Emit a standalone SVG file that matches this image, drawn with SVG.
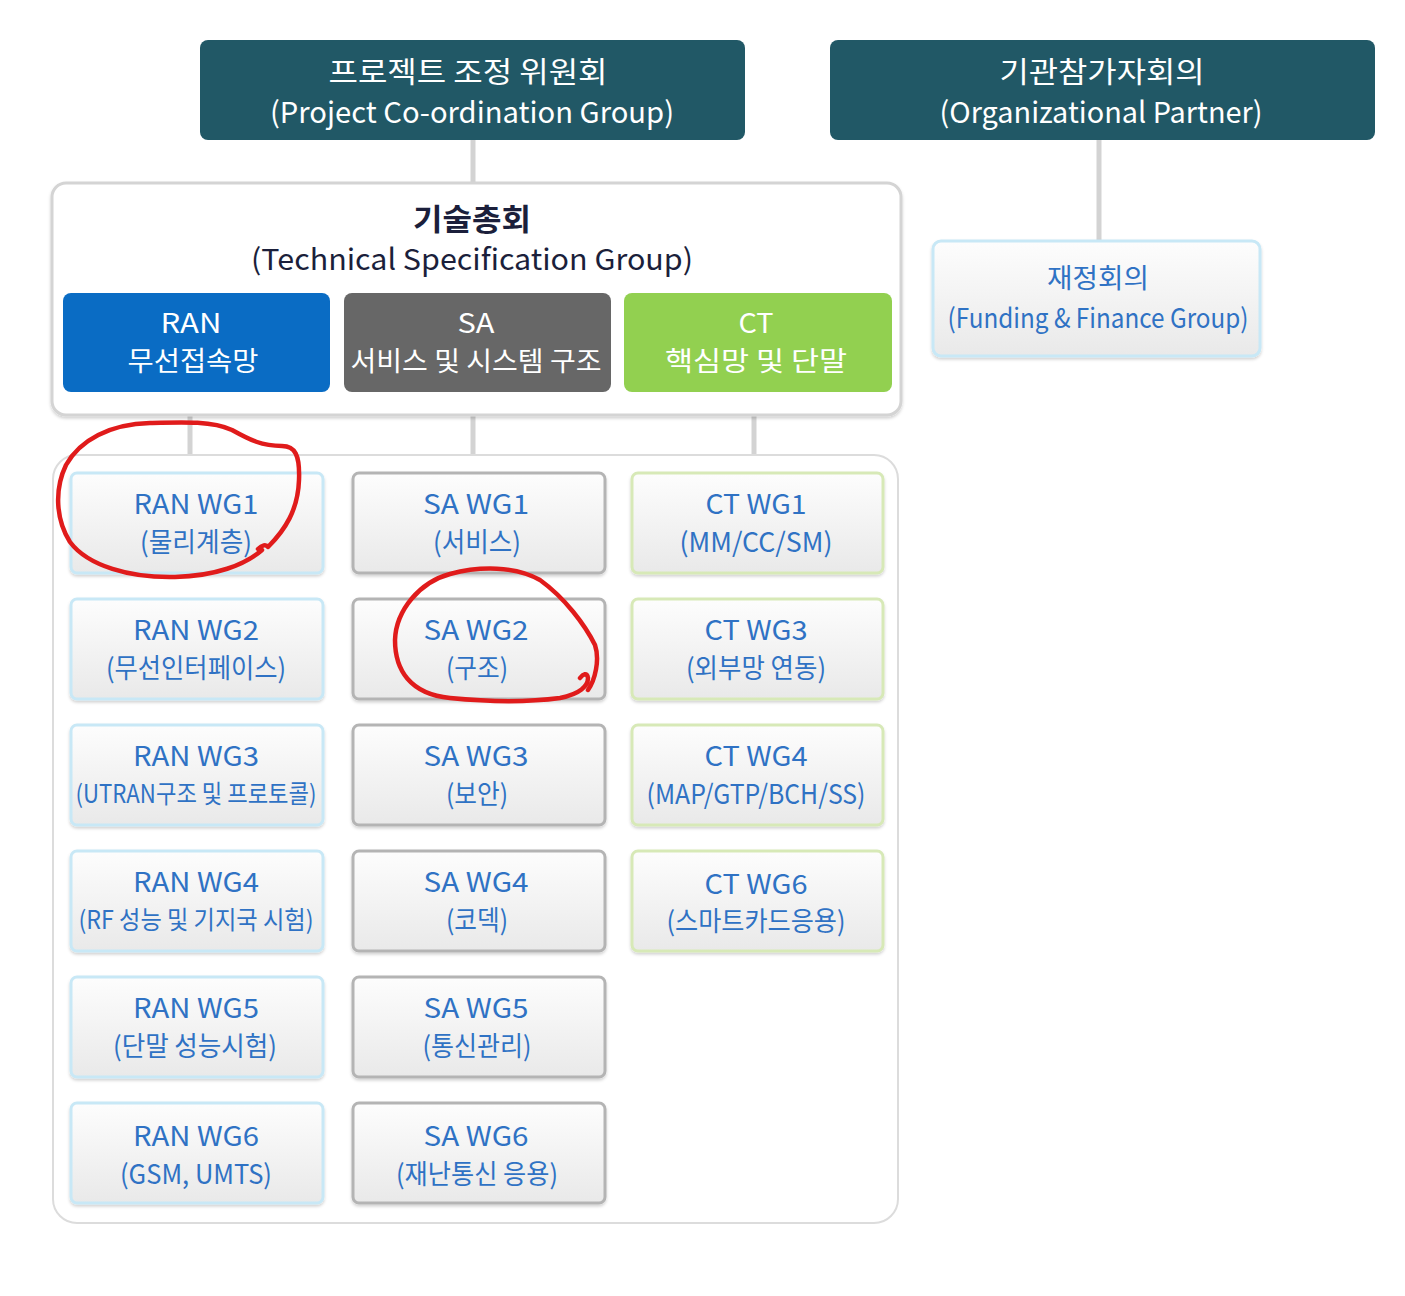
<svg xmlns="http://www.w3.org/2000/svg" width="1405" height="1296" viewBox="0 0 1405 1296">
<defs>
<linearGradient id="wg" x1="0" y1="0" x2="0" y2="1">
<stop offset="0" stop-color="#fdfdfd"/>
<stop offset="1" stop-color="#e9e9e9"/>
</linearGradient>
<filter id="sh" x="-5%" y="-5%" width="110%" height="115%">
<feDropShadow dx="0" dy="2" stdDeviation="1.5" flood-color="#000" flood-opacity="0.18"/>
</filter>
</defs>
<style>
text{font-family:"Noto Sans CJK KR","Noto Sans",sans-serif;text-anchor:middle;dominant-baseline:central}
.dark{fill:#215866}
.wt{fill:#ffffff;font-size:29px}
.wb{fill:#ffffff;font-size:27px}
.conn{stroke:#d3d3d3;stroke-width:5;fill:none}
.wgbox{fill:url(#wg);stroke-width:3;filter:url(#sh)}
.ran{stroke:#c8e8f6}
.sa{stroke:#b4b4b4}
.ct{stroke:#d7e9b7}
.wgt{fill:#2f72c4;font-size:27px}
.wgs{fill:#2f72c4;font-size:25px}
.red{stroke:#e01b1b;stroke-width:4.5;fill:none;stroke-linecap:round;stroke-linejoin:round}
</style>
<rect width="1405" height="1296" fill="#ffffff"/>

<g id="connectors">
<line class="conn" x1="473" y1="140" x2="473" y2="184"/>
<line class="conn" x1="1099" y1="140" x2="1099" y2="242"/>
<line class="conn" x1="190" y1="414" x2="190" y2="456"/>
<line class="conn" x1="473" y1="414" x2="473" y2="456"/>
<line class="conn" x1="754" y1="414" x2="754" y2="456"/>
</g>

<g id="pcg">
<rect class="dark" x="200" y="40" width="545" height="100" rx="8"/>
<text class="wt" x="468" y="70" textLength="279" lengthAdjust="spacingAndGlyphs">프로젝트 조정 위원회</text>
<text class="wt" x="472" y="110" textLength="404" lengthAdjust="spacingAndGlyphs">(Project Co-ordination Group)</text>
</g>

<g id="op">
<rect class="dark" x="830" y="40" width="545" height="100" rx="8"/>
<text class="wt" x="1102" y="70" textLength="205" lengthAdjust="spacingAndGlyphs">기관참가자회의</text>
<text class="wt" x="1101" y="110" textLength="323" lengthAdjust="spacingAndGlyphs">(Organizational Partner)</text>
</g>

<g id="tsg">
<rect x="52" y="183" width="849" height="232" rx="14" fill="#ffffff" stroke="#d4d4d4" stroke-width="3" filter="url(#sh)"/>
<text x="472" y="217" fill="#1b1f3b" font-size="30" font-weight="bold" textLength="118" lengthAdjust="spacingAndGlyphs">기술총회</text>
<text x="472" y="257" fill="#1b1f3b" font-size="29" textLength="442" lengthAdjust="spacingAndGlyphs">(Technical Specification Group)</text>
</g>

<g id="ran">
<rect x="63" y="293" width="267" height="99" rx="8" fill="#0a6cc4"/>
<text class="wb" x="191" y="321" textLength="61" lengthAdjust="spacingAndGlyphs">RAN</text>
<text class="wb" x="193" y="359" textLength="131" lengthAdjust="spacingAndGlyphs">무선접속망</text>
</g>
<g id="sa">
<rect x="344" y="293" width="267" height="99" rx="8" fill="#676767"/>
<text class="wb" x="476" y="321" textLength="37" lengthAdjust="spacingAndGlyphs">SA</text>
<text class="wb" x="476" y="359" textLength="251" lengthAdjust="spacingAndGlyphs">서비스 및 시스템 구조</text>
</g>
<g id="ct">
<rect x="624" y="293" width="268" height="99" rx="8" fill="#92d050"/>
<text class="wb" x="756" y="321" textLength="35" lengthAdjust="spacingAndGlyphs">CT</text>
<text class="wb" x="756" y="359" textLength="182" lengthAdjust="spacingAndGlyphs">핵심망 및 단말</text>
</g>

<g id="ffg">
<rect class="wgbox ran" x="933" y="241" width="327" height="115" rx="8"/>
<text class="wgt" x="1098" y="276" textLength="102" lengthAdjust="spacingAndGlyphs">재정회의</text>
<text class="wgt" x="1098" y="316" textLength="301" lengthAdjust="spacingAndGlyphs">(Funding &amp; Finance Group)</text>
</g>

<g id="wg-container">
<rect x="53" y="455" width="845" height="768" rx="24" fill="#ffffff" stroke="#dcdcdc" stroke-width="2"/>
</g>

<g id="ran-wg1"><rect class="wgbox ran" x="71" y="473" width="252" height="100" rx="6"/>
<text class="wgt" x="196" y="502" textLength="125" lengthAdjust="spacingAndGlyphs">RAN WG1</text>
<text class="wgt" x="196" y="540" textLength="112" lengthAdjust="spacingAndGlyphs">(물리계층)</text></g>
<g id="ran-wg2"><rect class="wgbox ran" x="71" y="599" width="252" height="100" rx="6"/>
<text class="wgt" x="196" y="628" textLength="126" lengthAdjust="spacingAndGlyphs">RAN WG2</text>
<text class="wgt" x="196" y="666" textLength="180" lengthAdjust="spacingAndGlyphs">(무선인터페이스)</text></g>
<g id="ran-wg3"><rect class="wgbox ran" x="71" y="725" width="252" height="100" rx="6"/>
<text class="wgt" x="196" y="754" textLength="126" lengthAdjust="spacingAndGlyphs">RAN WG3</text>
<text class="wgs" x="196" y="792" textLength="241" lengthAdjust="spacingAndGlyphs">(UTRAN구조 및 프로토콜)</text></g>
<g id="ran-wg4"><rect class="wgbox ran" x="71" y="851" width="252" height="100" rx="6"/>
<text class="wgt" x="196" y="880" textLength="126" lengthAdjust="spacingAndGlyphs">RAN WG4</text>
<text class="wgs" x="196" y="918" textLength="235" lengthAdjust="spacingAndGlyphs">(RF 성능 및 기지국 시험)</text></g>
<g id="ran-wg5"><rect class="wgbox ran" x="71" y="977" width="252" height="100" rx="6"/>
<text class="wgt" x="196" y="1006" textLength="126" lengthAdjust="spacingAndGlyphs">RAN WG5</text>
<text class="wgt" x="195" y="1044" textLength="164" lengthAdjust="spacingAndGlyphs">(단말 성능시험)</text></g>
<g id="ran-wg6"><rect class="wgbox ran" x="71" y="1103" width="252" height="100" rx="6"/>
<text class="wgt" x="196" y="1134" textLength="126" lengthAdjust="spacingAndGlyphs">RAN WG6</text>
<text class="wgt" x="196" y="1172" textLength="152" lengthAdjust="spacingAndGlyphs">(GSM, UMTS)</text></g>

<g id="sa-wg1"><rect class="wgbox sa" x="353" y="473" width="252" height="100" rx="6"/>
<text class="wgt" x="476" y="502" textLength="106" lengthAdjust="spacingAndGlyphs">SA WG1</text>
<text class="wgt" x="477" y="540" textLength="88" lengthAdjust="spacingAndGlyphs">(서비스)</text></g>
<g id="sa-wg2"><rect class="wgbox sa" x="353" y="599" width="252" height="100" rx="6"/>
<text class="wgt" x="476" y="628" textLength="105" lengthAdjust="spacingAndGlyphs">SA WG2</text>
<text class="wgt" x="477" y="666" textLength="62" lengthAdjust="spacingAndGlyphs">(구조)</text></g>
<g id="sa-wg3"><rect class="wgbox sa" x="353" y="725" width="252" height="100" rx="6"/>
<text class="wgt" x="476" y="754" textLength="105" lengthAdjust="spacingAndGlyphs">SA WG3</text>
<text class="wgt" x="477" y="792" textLength="62" lengthAdjust="spacingAndGlyphs">(보안)</text></g>
<g id="sa-wg4"><rect class="wgbox sa" x="353" y="851" width="252" height="100" rx="6"/>
<text class="wgt" x="476" y="880" textLength="105" lengthAdjust="spacingAndGlyphs">SA WG4</text>
<text class="wgt" x="477" y="918" textLength="62" lengthAdjust="spacingAndGlyphs">(코덱)</text></g>
<g id="sa-wg5"><rect class="wgbox sa" x="353" y="977" width="252" height="100" rx="6"/>
<text class="wgt" x="476" y="1006" textLength="105" lengthAdjust="spacingAndGlyphs">SA WG5</text>
<text class="wgt" x="477" y="1044" textLength="109" lengthAdjust="spacingAndGlyphs">(통신관리)</text></g>
<g id="sa-wg6"><rect class="wgbox sa" x="353" y="1103" width="252" height="100" rx="6"/>
<text class="wgt" x="476" y="1134" textLength="105" lengthAdjust="spacingAndGlyphs">SA WG6</text>
<text class="wgt" x="477" y="1172" textLength="162" lengthAdjust="spacingAndGlyphs">(재난통신 응용)</text></g>

<g id="ct-wg1"><rect class="wgbox ct" x="632" y="473" width="251" height="100" rx="6"/>
<text class="wgt" x="756" y="502" textLength="101" lengthAdjust="spacingAndGlyphs">CT WG1</text>
<text class="wgt" x="756" y="540" textLength="153" lengthAdjust="spacingAndGlyphs">(MM/CC/SM)</text></g>
<g id="ct-wg3"><rect class="wgbox ct" x="632" y="599" width="251" height="100" rx="6"/>
<text class="wgt" x="756" y="628" textLength="103" lengthAdjust="spacingAndGlyphs">CT WG3</text>
<text class="wgt" x="756" y="666" textLength="140" lengthAdjust="spacingAndGlyphs">(외부망 연동)</text></g>
<g id="ct-wg4"><rect class="wgbox ct" x="632" y="725" width="251" height="100" rx="6"/>
<text class="wgt" x="756" y="754" textLength="103" lengthAdjust="spacingAndGlyphs">CT WG4</text>
<text class="wgt" x="756" y="792" textLength="219" lengthAdjust="spacingAndGlyphs">(MAP/GTP/BCH/SS)</text></g>
<g id="ct-wg6"><rect class="wgbox ct" x="632" y="851" width="251" height="100" rx="6"/>
<text class="wgt" x="756" y="882" textLength="103" lengthAdjust="spacingAndGlyphs">CT WG6</text>
<text class="wgt" x="756" y="919" textLength="179" lengthAdjust="spacingAndGlyphs">(스마트카드응용)</text></g>

<g id="annotations">
<path class="red" d="M258,549 C262,545 266,544 268,547 C285,530 298,510 299,480 C300,455 295,446 282,446 C262,446 250,440 232,430 C212,421 185,422 150,423 C110,424 80,440 66,465 C54,490 56,520 70,542 C88,566 130,578 175,577 C215,576 245,565 262,550"/>
<path class="red" d="M580,678 C583,674 587,672 588,678 C588,686 580,694 560,698 C530,702 490,702 450,698 C410,694 395,670 395,640 C396,610 420,582 450,574 C480,566 515,566 540,580 C565,598 585,625 595,645 C600,660 595,680 588,690"/>
</g>
</svg>
